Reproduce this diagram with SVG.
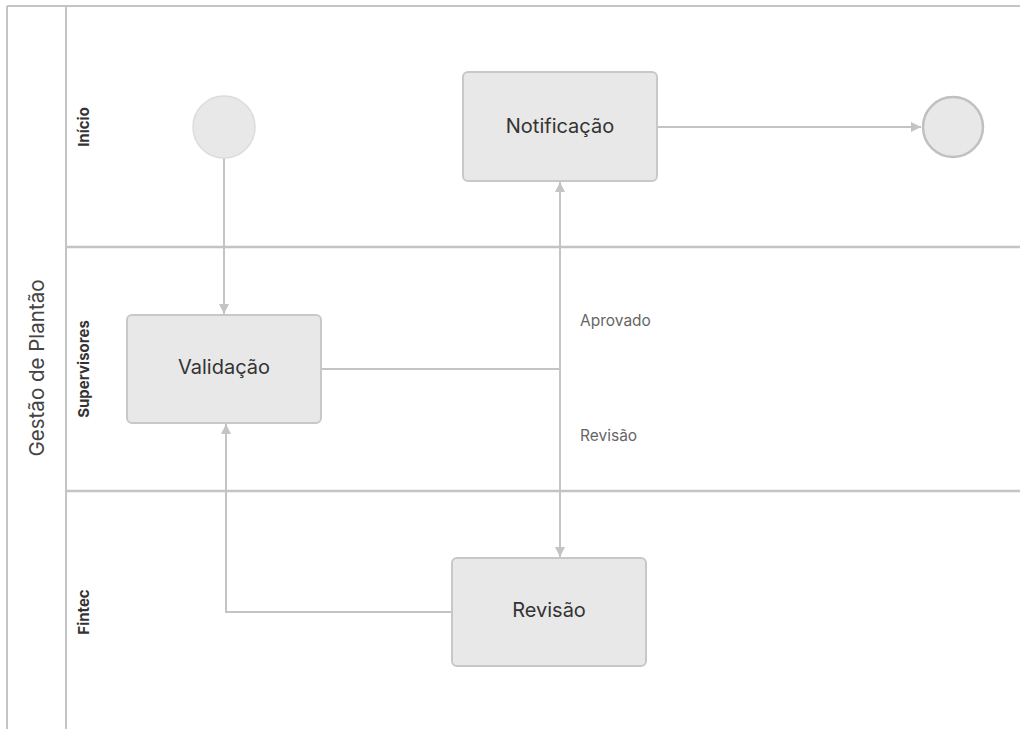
<svg xmlns="http://www.w3.org/2000/svg" width="1020" height="729" viewBox="0 0 1020 729">
<style>
.pool{stroke:#c4c4c4;stroke-width:2;fill:none}
.lane{stroke:#c4c4c4;stroke-width:2.5;fill:none}
.task{fill:#e8e8e8;stroke:#c8c8c8;stroke-width:2}
.tt{font-family:Inter,"Liberation Sans",sans-serif;font-size:20px;fill:#333;text-anchor:middle;dominant-baseline:central}
.ln{font-family:Inter,"Liberation Sans",sans-serif;font-size:15px;font-weight:bold;fill:#333;text-anchor:middle;dominant-baseline:central}
.el{font-family:Inter,"Liberation Sans",sans-serif;font-size:15.5px;fill:#666}
.edge{stroke:#c4c4c4;stroke-width:2;fill:none}
</style>
<defs>
<marker id="arr" viewBox="0 0 10 10" refX="10" refY="5" markerWidth="11" markerHeight="10" markerUnits="userSpaceOnUse" orient="auto">
<path d="M0,0 L10,5 L0,10 z" fill="#c4c4c4"/>
</marker>
</defs>
<rect width="1020" height="729" fill="#ffffff"/>
<g id="pool">
<line class="pool" x1="7" y1="6" x2="1020" y2="6"/>
<line class="pool" x1="7" y1="6" x2="7" y2="729"/>
<line class="pool" x1="66" y1="6" x2="66" y2="729"/>
<line class="lane" x1="66" y1="247" x2="1020" y2="247"/>
<line class="lane" x1="66" y1="491" x2="1020" y2="491"/>
<text transform="translate(36,368) rotate(-90)" font-family="Inter,'Liberation Sans',sans-serif" font-size="20.5" fill="#444" text-anchor="middle" dominant-baseline="central">Gestão de Plantão</text>
</g>
<g id="lane-inicio"><text class="ln" transform="translate(83,127) rotate(-90)">Início</text></g>
<g id="lane-supervisores"><text class="ln" transform="translate(83,369) rotate(-90)">Supervisores</text></g>
<g id="lane-fintec"><text class="ln" transform="translate(83,612) rotate(-90)">Fintec</text></g>
<g id="connectors">
<line class="edge" x1="224" y1="158" x2="224" y2="314" marker-end="url(#arr)"/>
<line class="edge" x1="657" y1="127" x2="921" y2="127" marker-end="url(#arr)"/>
<polyline class="edge" points="321,369 560,369"/>
<line class="edge" x1="560" y1="369" x2="560" y2="182" marker-end="url(#arr)"/>
<line class="edge" x1="560" y1="369" x2="560" y2="557" marker-end="url(#arr)"/>
<polyline class="edge" points="452,612 226,612 226,424" marker-end="url(#arr)"/>
<text class="el" x="580" y="326">Aprovado</text>
<text class="el" x="580" y="441">Revisão</text>
</g>
<g id="start"><circle cx="224" cy="127" r="31" fill="#e8e8e8" stroke="#dcdcdc" stroke-width="1.5"/></g>
<g id="end"><circle cx="953" cy="127" r="30" fill="#e8e8e8" stroke="#c0c0c0" stroke-width="2.5"/></g>
<g id="notificacao"><rect class="task" x="463" y="72" width="194" height="109" rx="5"/><text class="tt" x="560" y="126">Notificação</text></g>
<g id="validacao"><rect class="task" x="127" y="315" width="194" height="108" rx="5"/><text class="tt" x="224" y="367">Validação</text></g>
<g id="revisao"><rect class="task" x="452" y="558" width="194" height="108" rx="5"/><text class="tt" x="549" y="610">Revisão</text></g>
</svg>
